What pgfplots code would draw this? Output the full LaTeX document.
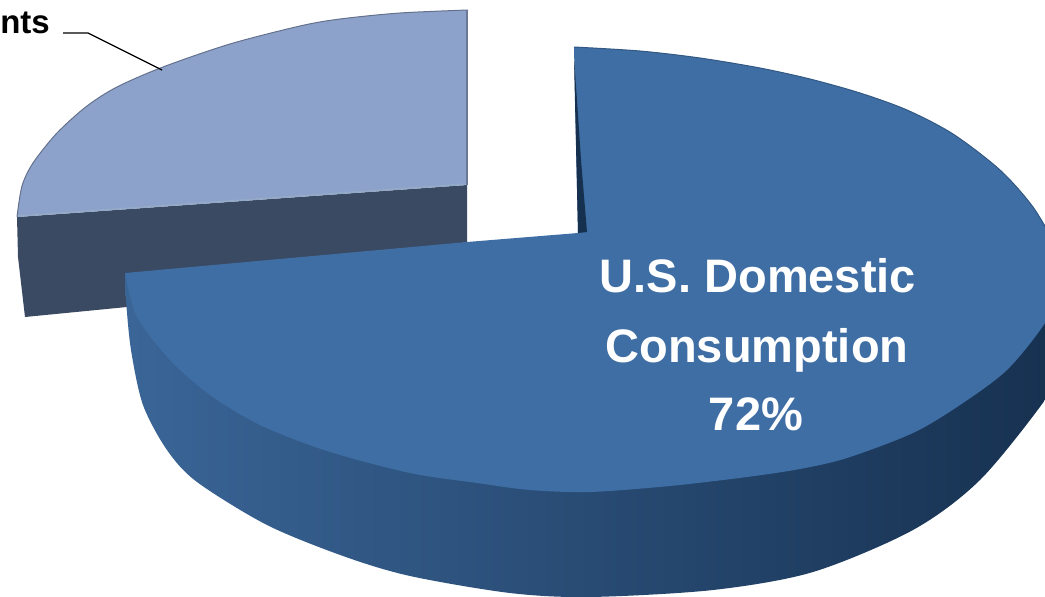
\documentclass[border=0pt]{standalone}
\usepackage{pgfplots}
\pgfplotsset{compat=1.18}
\usepackage{fontspec}
\setmainfont{Liberation Sans}
\definecolor{mainc}{HTML}{3F6EA4}
\definecolor{lightc}{HTML}{8DA2CA}
\definecolor{darkc}{HTML}{3A4A62}
\definecolor{shadowc}{HTML}{16304F}
\begin{document}
\begin{tikzpicture}
\path[use as bounding box] (0,0) rectangle (1045pt,597pt);
\begin{axis}[
  at={(0,0)}, anchor=south west,
  scale only axis, width=1045pt, height=597pt,
  xmin=0, xmax=1045, ymin=0, ymax=597, y dir=reverse,
  hide axis, clip=true,
]
% smaller slice, side wall
\addplot[draw=none, fill=darkc, forget plot] coordinates {
 (17,217) (18,257) (25,317) (127,307) (300,275) (467,242) (467,185)};
% smaller slice, top face
\addplot[draw=none, fill=lightc, forget plot, smooth] coordinates {
 (468,10) (400,13) (340,19) (300,26) (230,44) (163,67) (117,87) (87,106) (57,133) (33,163) (22,186) (17,217)} -- (axis cs:467,185) -- cycle;
\addplot[draw=lightc!70!black, line width=1pt, smooth, forget plot] coordinates {
 (468,10) (400,13) (340,19) (300,26) (230,44) (163,67) (117,87) (87,106) (57,133) (33,163) (22,186) (17,217)};
\addplot[draw=lightc!75!black, line width=1.5pt, forget plot] coordinates {(467,10) (467,185)};
\addplot[draw=lightc!105!blue, line width=1.5pt, forget plot] coordinates {(18,216) (466,184)};
% larger slice, side wall
\addplot[draw=none, left color=mainc!92!black, middle color=mainc!45!shadowc, right color=shadowc, forget plot, smooth] coordinates {
 (125,273) (126,300) (131,350) (143,405) (167,450) (197,482) (267,525) (343,556) (410,576) (510,593) (590,597) (713,590) (813,572) (913,530) (980,480) (1045,400) (1070,355)} -- (axis cs:1070,300) -- cycle;
% larger slice, top face
\addplot[draw=none, fill=mainc, forget plot, smooth] coordinates {
 (574,47) (640,51) (700,58) (760,68) (810,79) (860,93) (907,110) (953,134) (1000,170) (1033,207) (1055,245) (1062,285) (1045,323) (1007,370) (960,405) (913,433) (847,458) (800,469) (747,477) (670,486) (590,492) (530,490) (477,483) (410,473) (327,451) (260,425) (210,395) (170,360) (137,317) (125,273)} -- (axis cs:467,242) -- (axis cs:578,233) -- cycle;
\addplot[draw=mainc!80!black, line width=1pt, smooth, forget plot] coordinates {
 (574,47) (640,51) (700,58) (760,68) (810,79) (860,93) (907,110) (953,134) (1000,170) (1033,207) (1055,245)};
% inner shadow along the cut
\addplot[draw=none, fill=shadowc, forget plot] coordinates {
 (574,58) (577,100) (581,160) (587,232) (578,233)};
% leader line
\addplot[black, line width=1.2pt, forget plot] coordinates {(63,33) (88,33) (162,70)};
\node[anchor=base east, inner sep=0pt, font=\fontsize{33}{36}\selectfont\bfseries] at (axis cs:50,33) {nts};
\node[anchor=base, inner sep=0pt, text=white, font=\fontsize{47}{50}\selectfont\bfseries] at (axis cs:758,292) {U.S. Domestic};
\node[anchor=base, inner sep=0pt, text=white, font=\fontsize{47}{50}\selectfont\bfseries] at (axis cs:757,362) {Consumption};
\node[anchor=base, inner sep=0pt, text=white, font=\fontsize{47}{50}\selectfont\bfseries] at (axis cs:756,430) {72\%};
\end{axis}
\end{tikzpicture}
\end{document}
